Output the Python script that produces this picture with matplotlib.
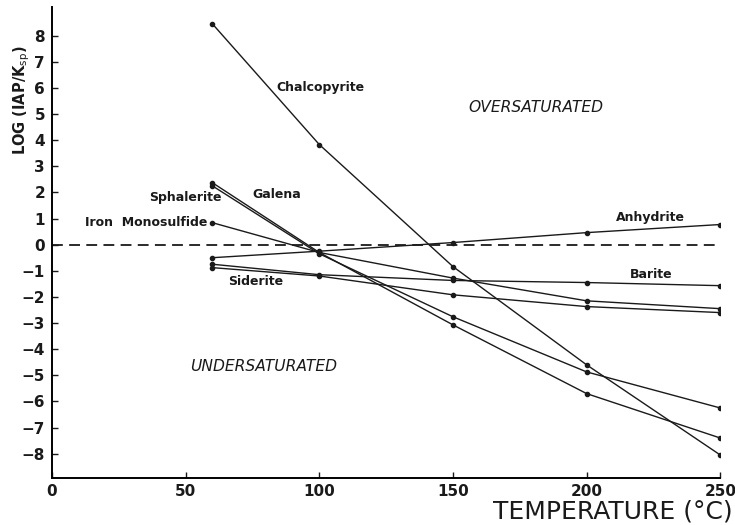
import matplotlib
matplotlib.use("Agg")
import matplotlib.pyplot as plt

# temperatures (deg C) at which log(IAP/Ksp) was computed
temps = [60, 100, 150, 200, 250]

# log(IAP/Ksp)
chalcopyrite = [8.45, 3.83, -0.84, -4.6, -8.05]
sphalerite = [2.37, -0.3, -3.07, -5.7, -7.4]
galena = [2.25, -0.35, -2.76, -4.87, -6.25]
iron_mono = [0.84, -0.3, -1.28, -2.15, -2.45]
anhydrite = [-0.5, -0.25, 0.08, 0.46, 0.77]
barite = [-0.75, -1.15, -1.37, -1.45, -1.57]
siderite = [-0.88, -1.2, -1.92, -2.37, -2.6]

series = [chalcopyrite, sphalerite, galena, iron_mono, anhydrite, barite, siderite]

y_ticks = list(range(-8, 9))
x_ticks = [0, 50, 100, 150, 200, 250]

fig = plt.figure(figsize=(7.35, 5.25), dpi=100)
ax = fig.add_axes([0.0707, 0.0895, 0.9093, 0.8975])

ink = "#1a1a1a"
for s in series:
    ax.plot(temps, s, color=ink, lw=1.0, marker="o", ms=3, mec=ink, mfc=ink)

# saturation line
ax.axhline(0, color=ink, lw=1.3, dashes=(6, 3.5))

ax.set_xlim(0, 250)
ax.set_ylim(-8.93, 9.1)
ax.spines["top"].set_visible(False)
ax.spines["right"].set_visible(False)
ax.spines["left"].set_linewidth(1.4)
ax.spines["bottom"].set_linewidth(1.4)

ax.set_yticks(y_ticks)
ax.set_xticks(x_ticks)
ax.tick_params(direction="in", length=4, width=1, colors=ink, labelsize=11)
for lab in ax.get_xticklabels() + ax.get_yticklabels():
    lab.set_fontweight("bold")
ax.tick_params(axis="x", pad=4)
ax.tick_params(axis="y", pad=5)

fig.text(22 / 735, 1 - 100 / 525, "LOG (IAP/K$_{\\rm sp}$)", rotation=90,
         fontsize=10.5, fontweight="bold", ha="center", va="center", color=ink)
fig.text(0.997, 0.002, "TEMPERATURE (\u00b0C)", fontsize=18, ha="right", va="bottom", color=ink)

lab_kw = dict(fontsize=9, fontweight="bold", color=ink, va="center")
ax.text(84, 6.0, "Chalcopyrite", ha="left", **lab_kw)
ax.text(63.5, 1.8, "Sphalerite", ha="right", **lab_kw)
ax.text(75, 1.92, "Galena", ha="left", **lab_kw)
ax.text(58, 0.85, "Iron  Monosulfide", ha="right", **lab_kw)
ax.text(66, -1.42, "Siderite", ha="left", **lab_kw)
ax.text(211, 1.03, "Anhydrite", ha="left", **lab_kw)
ax.text(216, -1.15, "Barite", ha="left", **lab_kw)

ax.text(181, 5.25, "OVERSATURATED", fontsize=11.2, style="italic", ha="center", va="center", color=ink)
ax.text(79, -4.67, "UNDERSATURATED", fontsize=11.2, style="italic", ha="center", va="center", color=ink)

fig.savefig("out.png", dpi=100)
